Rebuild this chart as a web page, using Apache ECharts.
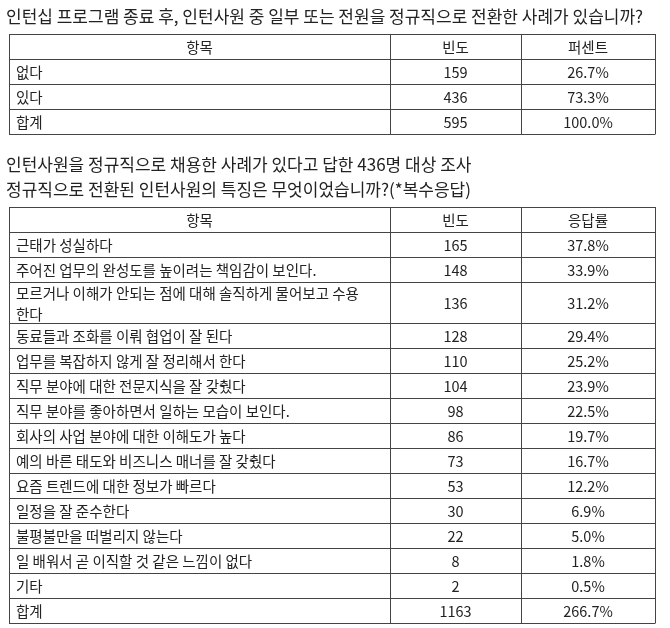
<!DOCTYPE html>
<html>
<head>
<meta charset="utf-8">
<style type="text/css">
  html, body { margin: 0; padding: 0; background: #fff; }
</style>
</head>
<body>
<div style="width: 670px;height: 628px;" id="chart"></div>
<script src="https://cdn.jsdelivr.net/npm/echarts@6/dist/echarts.min.js"></script>
<script>

// table 1
let title1 = '인턴십 프로그램 종료 후, 인턴사원 중 일부 또는 전원을 정규직으로 전환한 사례가 있습니까?';
let header1 = ['항목', '빈도', '퍼센트'];
let items1 = ['없다', '있다', '합계'];
let counts1 = [159, 436, 595];
let pcts1 = ['26.7%', '73.3%', '100.0%'];

// table 2
let title2 = ['인턴사원을 정규직으로 채용한 사례가 있다고 답한 436명 대상 조사', '정규직으로 전환된 인턴사원의 특징은 무엇이었습니까?(*복수응답)'];
let header2 = ['항목', '빈도', '응답률'];
let items2 = [
    '근태가 성실하다',
    '주어진 업무의 완성도를 높이려는 책임감이 보인다.',
    '모르거나 이해가 안되는 점에 대해 솔직하게 물어보고 수용\n한다',
    '동료들과 조화를 이뤄 협업이 잘 된다',
    '업무를 복잡하지 않게 잘 정리해서 한다',
    '직무 분야에 대한 전문지식을 잘 갖췄다',
    '직무 분야를 좋아하면서 일하는 모습이 보인다.',
    '회사의 사업 분야에 대한 이해도가 높다',
    '예의 바른 태도와 비즈니스 매너를 잘 갖췄다',
    '요즘 트렌드에 대한 정보가 빠르다',
    '일정을 잘 준수한다',
    '불평불만을 떠벌리지 않는다',
    '일 배워서 곧 이직할 것 같은 느낌이 없다',
    '기타',
    '합계'
];
let counts2 = [165, 148, 136, 128, 110, 104, 98, 86, 73, 53, 30, 22, 8, 2, 1163];
let pcts2 = ['37.8%', '33.9%', '31.2%', '29.4%', '25.2%', '23.9%', '22.5%', '19.7%', '16.7%', '12.2%', '6.9%', '5.0%', '1.8%', '0.5%', '266.7%'];

let font = '"Noto Sans CJK KR", sans-serif';
let colX = [9, 390, 521, 655];
let rowH = 25;
let els = [];

function txt(x, y, s, align, size) {
    els.push({
        type: 'text', x: x, y: y,
        style: {
            text: s, fill: '#222', font: (size || 14.5) + 'px ' + font,
            align: align || 'left', verticalAlign: 'middle', lineHeight: 21
        }
    });
}

function line(x1, y1, x2, y2) {
    els.push({
        type: 'line',
        shape: {x1: x1, y1: y1, x2: x2, y2: y2},
        style: {stroke: '#444', lineWidth: 1}
    });
}

function table(top, header, items, counts, pcts) {
    let ys = [top, top + rowH];
    items.forEach(s => {
        let h = s.indexOf('\n') >= 0 ? 41 : rowH;
        ys.push(ys[ys.length - 1] + h);
    });
    let bottom = ys[ys.length - 1];
    ys.forEach(y => line(colX[0], y + 0.5, colX[3], y + 0.5));
    colX.forEach(x => line(x + 0.5, top, x + 0.5, bottom + 0.5));
    let mid = i => (colX[i] + colX[i + 1]) / 2;
    for (let i = 0; i < 3; i++) txt(mid(i), top + rowH / 2 + 1, header[i], 'center');
    items.forEach((s, i) => {
        let cy = (ys[i + 1] + ys[i + 2]) / 2 + 1;
        txt(colX[0] + 7, cy, s, 'left');
        txt(mid(1), cy, String(counts[i]), 'center');
        txt(mid(2), cy, pcts[i], 'center');
    });
}

txt(6, 17, title1, 'left', 17);
table(34, header1, items1, counts1, pcts1);
txt(6, 165, title2[0], 'left', 17);
txt(6, 190, title2[1], 'left', 17);
table(207, header2, items2, counts2, pcts2);

let chart = echarts.init(document.getElementById('chart'));
chart.setOption({
    backgroundColor: '#fff',
    animation: false,
    graphic: els
});

</script>
</body>
</html>
